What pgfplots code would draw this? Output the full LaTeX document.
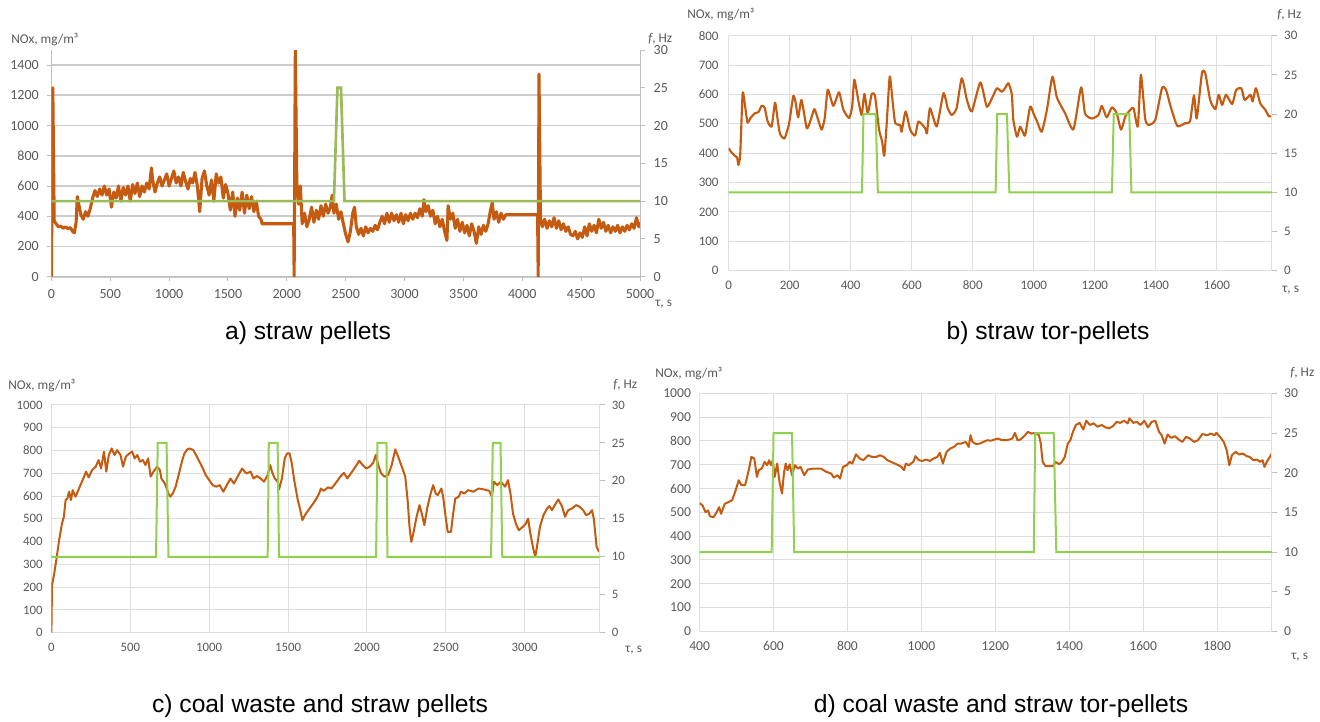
\documentclass[border=0pt]{standalone}
\usepackage{fontspec}
\setmainfont{Carlito}
\newfontfamily\arial{Liberation Sans}
\usepackage{pgfplots}
\pgfplotsset{compat=1.18}
\definecolor{nox}{HTML}{C55A11}
\definecolor{fgA}{HTML}{9BBB59}
\definecolor{fg}{HTML}{92D050}
\definecolor{txt}{HTML}{595959}
\definecolor{gridA}{HTML}{CCCCCC}
\definecolor{gridB}{HTML}{DEDEDE}
\definecolor{axl}{HTML}{BFBFBF}
\pgfplotsset{
  base/.style={scale only axis, anchor=south west,
    /pgf/number format/1000 sep={}, /pgf/number format/assume math mode=true,
    scaled ticks=false, tick label style={text=txt},
    axis line style={axl, line width=0.75pt}, tick style={axl, line width=0.75pt},
    tick align=outside},
  leftax/.style={base, axis y line*=left, axis x line*=bottom},
  rightax/.style={base, axis y line*=right, axis x line=none, ymin=0, ymax=30,
    ytick={0,5,...,30}, major tick length=3.75pt},
}
\begin{document}
\begin{tikzpicture}
\path[use as bounding box] (0,0) rectangle (990pt,-540.75pt);
% ---------------- panel a
\begin{axis}[leftax, at={(38.55pt,-207.5pt)}, width=441.45pt, height=170pt,
  xmin=0, xmax=5000, ymin=0, ymax=1500, xtick={0,500,...,5000}, ytick={0,200,...,1400},
  ymajorgrids, grid style={gridA, line width=1.3pt}, major tick length=3pt,
  tick label style={font=\fontsize{10.5}{12}\selectfont},
  xticklabel style={yshift=-3pt}, yticklabel style={xshift=-3pt}]
\addplot[nox, line width=2.3pt, line join=round] coordinates {
(0,0) (12,1250) (24,370) (40,350) (60,330) (80,335) (100,320) (120,330) (140,318) (160,325) (180,300) (195,290)
(210,360) (220,530) (235,470) (250,410) (270,380) (290,430) (310,400) (330,450) (350,520) (370,570) (390,530)
(410,580) (430,540) (450,600) (470,540) (490,580) (510,460) (530,560) (550,520) (570,600) (590,500) (610,590)
(630,540) (650,600) (670,500) (690,610) (710,550) (730,620) (750,530) (770,600) (790,560) (810,620) (830,580)
(850,720) (860,640) (880,560) (900,620) (920,660) (940,600) (960,640) (980,680) (1000,600) (1020,650) (1040,700)
(1060,620) (1080,660) (1100,600) (1120,690) (1140,630) (1160,580) (1180,650) (1200,620) (1220,690) (1240,600)
(1260,430) (1280,650) (1300,700) (1320,600) (1340,540) (1360,640) (1380,500) (1400,680) (1420,620) (1440,660)
(1460,520) (1480,610) (1500,550) (1520,440) (1540,560) (1560,400) (1580,520) (1600,440) (1620,560) (1640,420)
(1660,540) (1680,450) (1700,530) (1720,430) (1740,500) (1760,400) (1780,380) (1790,350) (2058,350) (2062,0)
(2072,1500) (2085,620) (2100,480) (2115,600) (2130,350) (2150,420) (2170,330) (2190,380) (2210,460) (2230,360)
(2250,440) (2270,380) (2290,470) (2310,400) (2330,480) (2350,420) (2370,460) (2385,540) (2400,420) (2420,480)
(2440,380) (2460,430) (2480,350) (2500,280) (2520,230) (2540,300) (2560,420) (2575,460) (2590,330) (2610,280)
(2630,320) (2650,270) (2670,330) (2690,290) (2710,320) (2730,300) (2750,340) (2770,310) (2790,360) (2810,400)
(2830,350) (2850,420) (2870,360) (2890,420) (2910,370) (2930,410) (2950,360) (2970,420) (2990,350) (3010,410)
(3030,370) (3050,420) (3070,380) (3090,420) (3110,390) (3130,450) (3150,400) (3165,510) (3180,430) (3200,470)
(3220,400) (3240,440) (3260,350) (3280,400) (3300,330) (3320,380) (3340,300) (3360,240) (3370,470) (3390,380)
(3410,420) (3430,320) (3450,380) (3470,300) (3490,360) (3510,290) (3530,340) (3550,270) (3570,350) (3590,300)
(3610,220) (3630,330) (3650,280) (3670,340) (3690,300) (3710,350) (3730,440) (3745,490) (3760,380) (3780,430)
(3800,360) (3820,420) (3840,380) (3860,410) (4130,410) (4135,0) (4142,1340) (4155,380) (4170,330) (4190,380)
(4210,320) (4230,370) (4250,330) (4270,390) (4290,320) (4310,370) (4330,310) (4350,350) (4370,300) (4390,330)
(4410,280) (4430,270) (4450,300) (4470,250) (4490,290) (4510,260) (4530,330) (4550,270) (4570,350) (4590,300)
(4610,340) (4630,290) (4650,380) (4670,320) (4690,360) (4710,300) (4730,340) (4750,290) (4770,330) (4790,300)
(4810,340) (4830,290) (4850,330) (4870,300) (4890,340) (4910,310) (4930,350) (4950,320) (4970,390) (4990,330) (5000,360)};
\end{axis}
\begin{axis}[rightax, at={(38.55pt,-207.5pt)}, width=441.45pt, height=170pt,
  xmin=0, xmax=5000, tick label style={font=\fontsize{10.5}{12}\selectfont},
  yticklabel style={xshift=3pt}]
\addplot[fgA, line width=2pt] coordinates {(0,10) (2400,10) (2430,25) (2460,25) (2490,10) (5000,10)};
\end{axis}
% ---------------- panel b
\begin{axis}[leftax, at={(546.45pt,-203pt)}, width=407.4pt, height=176.25pt,
  xmin=0, xmax=1780, ymin=0, ymax=800, xtick={0,200,...,1600}, ytick={0,100,...,800},
  grid=major, grid style={gridB, line width=0.75pt}, major tick length=0pt,
  axis line style={gridB},
  tick label style={font=\fontsize{9.75}{12}\selectfont},
  xticklabel style={yshift=-4pt}, yticklabel style={xshift=-4pt}]
\addplot[nox, line width=1.6pt, line join=round, smooth, tension=0.35] coordinates {
(0,417) (10,402) (20,392) (28,385) (32,360) (38,395) (46,604) (54,560) (62,504) (72,520) (86,536) (98,540)
(108,561) (118,555) (128,508) (141,491) (152,572) (160,520) (168,467) (183,450) (198,500) (212,595) (220,570)
(228,522) (239,581) (256,485) (268,510) (281,550) (293,515) (305,480) (315,520) (325,616) (343,561) (362,607)
(376,548) (395,520) (405,560) (412,650) (425,580) (436,530) (445,602) (456,536) (469,602) (480,593) (493,480)
(503,440) (510,391) (518,500) (528,661) (537,580) (546,502) (562,496) (567,473) (580,542) (595,480) (611,460)
(622,508) (644,485) (650,468) (660,553) (682,491) (704,604) (718,553) (731,530) (747,553) (764,655) (781,581)
(797,542) (825,641) (846,558) (863,587) (879,621) (895,609) (905,620) (917,638) (928,600) (933,513) (945,456)
(955,490) (965,470) (972,462) (988,558) (999,535) (1012,505) (1026,473) (1043,547) (1061,660) (1075,592)
(1090,560) (1103,535) (1130,481) (1155,624) (1168,535) (1190,518) (1212,530) (1223,561) (1239,522) (1256,556)
(1272,535) (1286,480) (1300,525) (1316,547) (1327,553) (1341,491) (1351,667) (1365,518) (1376,496) (1398,513)
(1420,621) (1433,617) (1447,564) (1460,520) (1472,491) (1496,502) (1512,508) (1525,597) (1534,518) (1551,672)
(1562,672) (1578,581) (1595,550) (1606,599) (1617,564) (1630,599) (1650,567) (1663,615) (1680,621) (1691,581)
(1710,599) (1717,576) (1728,621) (1742,570) (1759,547) (1770,526) (1780,526)};
\end{axis}
\begin{axis}[rightax, at={(546.45pt,-203pt)}, width=407.4pt, height=176.25pt,
  xmin=0, xmax=1780, axis line style={gridB}, tick label style={font=\fontsize{9.75}{12}\selectfont},
  yticklabel style={xshift=2pt}]
\addplot[fg, line width=1.5pt] coordinates {(0,10) (437,10) (442,20) (482,20) (489,10) (875,10) (880,20)
(912,20) (920,10) (1256,10) (1262,20) (1313,20) (1320,10) (1780,10)};
\end{axis}
% ---------------- panel c
\begin{axis}[leftax, at={(38.55pt,-474.5pt)}, width=411.15pt, height=170.8pt,
  xmin=0, xmax=3475, ymin=0, ymax=1000, xtick={0,500,...,3000}, ytick={0,100,...,1000},
  grid=major, grid style={gridB, line width=0.75pt}, major tick length=0pt,
  axis line style={gridB},
  tick label style={font=\fontsize{9.6}{12}\selectfont},
  xticklabel style={yshift=-4pt}, yticklabel style={xshift=-3pt}]
\addplot[nox, line width=1.5pt, line join=round] coordinates {
(0,0) (4,208) (18,260) (34,333) (49,406) (67,479) (79,509) (90,582) (101,589) (112,619) (124,582) (135,626)
(153,597) (175,633) (202,677) (220,707) (236,682) (258,714) (281,729) (299,758) (315,721) (333,795) (348,707)
(364,780) (382,809) (400,780) (416,802) (438,780) (454,729) (472,773) (494,787) (512,795) (528,765) (544,780)
(562,751) (580,758) (596,736) (613,765) (629,685) (647,707) (670,729) (688,714) (697,677) (719,655) (742,611)
(753,597) (769,611) (787,640) (809,699) (827,751) (843,787) (861,805) (876,809) (899,802) (917,780) (933,758)
(955,729) (978,692) (1000,670) (1022,648) (1045,641) (1067,648) (1090,619) (1112,648) (1135,677) (1157,655)
(1180,685) (1209,721) (1236,699) (1263,707) (1281,677) (1303,688) (1326,677) (1348,663) (1371,692) (1387,736)
(1398,707) (1416,677) (1434,663) (1443,629) (1461,677) (1479,765) (1494,787) (1510,787) (1524,743) (1539,670)
(1562,582) (1578,538) (1591,494) (1607,516) (1629,538) (1652,560) (1674,582) (1697,611) (1708,633) (1726,623)
(1753,638) (1775,633) (1809,663) (1831,685) (1854,702) (1876,677) (1906,707) (1928,729) (1951,755) (1973,736)
(1996,721) (2018,729) (2040,746) (2056,780) (2072,736) (2090,699) (2112,685) (2135,692) (2157,736) (2180,805)
(2202,765) (2225,721) (2243,685) (2258,582) (2270,465) (2281,399) (2292,428) (2315,509) (2333,560) (2348,523)
(2364,472) (2384,553) (2404,611) (2420,648) (2436,611) (2449,604) (2472,633) (2483,597) (2499,509) (2512,443)
(2533,443) (2544,509) (2560,589) (2582,597) (2596,619) (2618,611) (2640,626) (2674,619) (2708,633) (2742,629)
(2775,623) (2792,597) (2805,663) (2827,648) (2849,663) (2876,641) (2894,670) (2910,611) (2926,523) (2944,479)
(2962,450) (2989,465) (3007,479) (3022,501) (3034,443) (3052,377) (3067,333) (3078,377) (3097,465) (3119,516)
(3142,545) (3157,556) (3173,538) (3191,560) (3213,585) (3236,556) (3256,509) (3276,538) (3299,545) (3326,560)
(3348,553) (3371,538) (3389,516) (3411,523) (3427,538) (3438,501) (3456,377) (3472,355)};
\end{axis}
\begin{axis}[rightax, at={(38.55pt,-474.5pt)}, width=411.15pt, height=170.8pt,
  xmin=0, xmax=3475, axis line style={gridB}, tick label style={font=\fontsize{9.6}{12}\selectfont},
  yticklabel style={xshift=2pt}]
\addplot[fg, line width=1.5pt] coordinates {(0,10) (663,10) (674,25) (730,25) (742,10) (1371,10) (1378,25)
(1434,25) (1443,10) (2058,10) (2067,25) (2124,25) (2130,10) (2787,10) (2798,25) (2847,25) (2858,10) (3475,10)};
\end{axis}
% ---------------- panel d
\begin{axis}[leftax, at={(524.7pt,-473.5pt)}, width=429.15pt, height=178.5pt,
  xmin=400, xmax=1948, ymin=0, ymax=1000, xtick={400,600,...,1800}, ytick={0,100,...,1000},
  grid=major, grid style={gridB, line width=0.75pt}, major tick length=0pt,
  axis line style={gridB},
  tick label style={font=\fontsize{10.2}{12}\selectfont},
  xticklabel style={yshift=-4pt}, yticklabel style={xshift=-3pt}]
\addplot[nox, line width=1.5pt, line join=round] coordinates {
(400,539) (408,529) (416,501) (423,508) (428,483) (438,480) (446,501) (453,522) (458,494) (468,536) (478,543)
(488,551) (496,586) (506,635) (513,614) (523,614) (533,677) (540,733) (548,726) (555,649) (560,677) (568,684)
(576,712) (583,698) (588,719) (593,698) (598,719) (603,649) (610,705) (616,628) (623,579) (628,663) (633,705)
(638,677) (644,702) (650,656) (658,698) (666,684) (673,691) (683,656) (693,680) (708,684) (728,684) (743,670)
(756,663) (763,646) (773,656) (780,642) (788,691) (798,698) (806,712) (813,705) (823,744) (833,726) (843,719)
(856,740) (866,733) (878,733) (888,740) (898,733) (908,719) (918,712) (928,705) (938,698) (946,691) (953,677)
(958,705) (966,698) (978,712) (984,736) (993,719) (1003,716) (1013,722) (1023,716) (1033,726) (1043,733)
(1050,750) (1058,705) (1068,754) (1078,768) (1088,775) (1098,789) (1108,789) (1120,796) (1128,775) (1133,824)
(1138,796) (1148,787) (1158,789) (1168,796) (1178,803) (1188,801) (1198,806) (1208,810) (1218,803) (1228,803)
(1238,806) (1246,810) (1253,834) (1260,803) (1268,806) (1278,820) (1288,838) (1298,831) (1308,834) (1318,824)
(1323,789) (1328,712) (1336,694) (1346,694) (1356,694) (1363,712) (1373,702) (1380,712) (1388,733) (1396,789)
(1403,803) (1410,838) (1418,867) (1428,876) (1438,848) (1446,885) (1456,867) (1466,874) (1476,860) (1488,867)
(1498,857) (1508,853) (1518,862) (1528,880) (1538,876) (1548,885) (1558,874) (1563,895) (1573,876) (1583,880)
(1593,867) (1603,885) (1613,857) (1623,880) (1633,885) (1643,838) (1650,824) (1658,789) (1666,827) (1676,813)
(1686,820) (1696,806) (1706,796) (1716,817) (1726,810) (1738,796) (1748,803) (1760,829) (1773,824) (1783,831)
(1793,824) (1798,834) (1808,817) (1818,796) (1826,761) (1833,698) (1840,740) (1850,754) (1860,743) (1870,747)
(1880,736) (1888,733) (1898,719) (1908,722) (1916,712) (1923,719) (1928,691) (1936,716) (1948,747)};
\end{axis}
\begin{axis}[rightax, at={(524.7pt,-473.5pt)}, width=429.15pt, height=178.5pt,
  xmin=400, xmax=1948, axis line style={gridB}, tick label style={font=\fontsize{10.2}{12}\selectfont},
  yticklabel style={xshift=2pt}]
\addplot[fg, line width=1.5pt] coordinates {(400,10) (595,10) (600,25) (650,25) (656,10) (1304,10) (1308,25)
(1358,25) (1365,10) (1948,10)};
\end{axis}
% ---------------- labels
\begin{scope}[every node/.style={text=txt, inner sep=0pt, anchor=west}]
\node[font=\fontsize{10}{12}\selectfont] at (8.25pt,-30pt) {NOx, mg/m³};
\node[font=\fontsize{10}{12}\selectfont] at (486pt,-29pt) {\textit{f}, Hz};
\node[font=\fontsize{10}{12}\selectfont] at (491.25pt,-228pt) {τ, s};
\node[font=\fontsize{10}{12}\selectfont] at (515.25pt,-11.25pt) {NOx, mg/m³};
\node[font=\fontsize{10}{12}\selectfont] at (957.75pt,-11.25pt) {\textit{f}, Hz};
\node[font=\fontsize{10}{12}\selectfont] at (961.5pt,-217.5pt) {τ, s};
\node[font=\fontsize{10}{12}\selectfont] at (6pt,-288.75pt) {NOx, mg/m³};
\node[font=\fontsize{10}{12}\selectfont] at (459.75pt,-288.75pt) {\textit{f}, Hz};
\node[font=\fontsize{10}{12}\selectfont] at (468.75pt,-487.5pt) {τ, s};
\node[font=\fontsize{10}{12}\selectfont] at (491.25pt,-279.75pt) {NOx, mg/m³};
\node[font=\fontsize{10}{12}\selectfont] at (967.5pt,-279.75pt) {\textit{f}, Hz};
\node[font=\fontsize{10}{12}\selectfont] at (968.25pt,-492.75pt) {τ, s};
\end{scope}
\begin{scope}[every node/.style={text=black, inner sep=0pt, anchor=center, font=\arial\fontsize{18.5}{22}\selectfont}]
\node at (231pt,-249.75pt) {a) straw pellets};
\node at (786pt,-249.75pt) {b) straw tor-pellets};
\node at (240pt,-529.5pt) {c) coal waste and straw pellets};
\node at (750.75pt,-529.5pt) {d) coal waste and straw tor-pellets};
\end{scope}
\end{tikzpicture}
\end{document}
